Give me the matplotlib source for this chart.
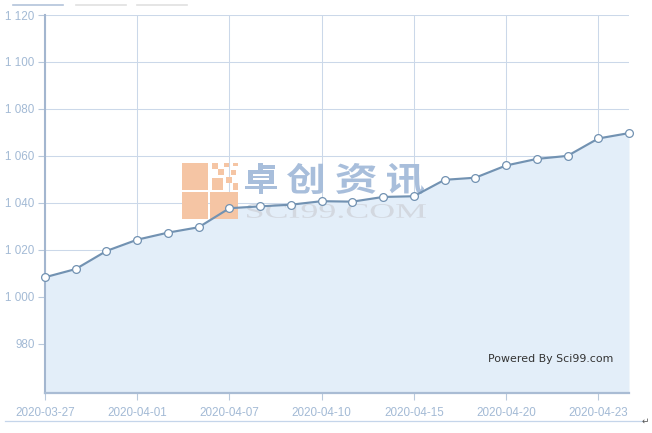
import matplotlib
matplotlib.use("Agg")
import matplotlib.pyplot as plt
import matplotlib.lines as mlines
import matplotlib.patches as mpatches
from matplotlib.textpath import TextPath
from matplotlib.font_manager import FontProperties
from matplotlib.transforms import Affine2D

# data
dates = ["2020-03-27", "2020-03-30", "2020-03-31", "2020-04-01", "2020-04-02",
         "2020-04-03", "2020-04-07", "2020-04-08", "2020-04-09", "2020-04-10",
         "2020-04-13", "2020-04-14", "2020-04-15", "2020-04-16", "2020-04-17",
         "2020-04-20", "2020-04-21", "2020-04-22", "2020-04-23", "2020-04-24"]
prices = [1008.3, 1011.8, 1019.5, 1024.3, 1027.3, 1029.6, 1037.7, 1038.5, 1039.2, 1040.7,
          1040.5, 1042.5, 1042.8, 1049.8, 1050.7, 1055.9, 1058.7, 1060.0, 1067.4, 1069.7]
y_ticks = [980, 1000, 1020, 1040, 1060, 1080, 1100, 1120]
y_tick_labels = ["980", "1 000", "1 020", "1 040", "1 060", "1 080", "1 100", "1 120"]

W, H = 652, 433
plt.rcParams['font.family'] = ['Liberation Sans', 'DejaVu Sans']

fig = plt.figure(figsize=(W / 100, H / 100), dpi=100)
fig.patch.set_facecolor('white')

# axes box in pixels: left 45, right 629, top 15, bottom 393
ax = fig.add_axes([45 / W, 1 - 393 / H, (629 - 45) / W, (393 - 15) / H])
ax.set_facecolor('white')

x = list(range(len(dates)))
line_col = '#7292b2'
ax.fill_between(x, prices, 959, color='#e3eef9', zorder=1, lw=0)
ax.plot(x, prices, color=line_col, lw=1.55, marker='o', markersize=5.6,
        markerfacecolor='white', markeredgecolor=line_col, markeredgewidth=0.9, zorder=5, clip_on=False)

ax.set_xlim(0, len(dates) - 1)
ax.set_ylim(959, 1120)
ax.set_yticks(y_ticks)
ax.set_yticklabels(y_tick_labels)
ax.set_xticks(x[::3])
ax.set_xticklabels(dates[::3])

lab_col = '#a3bad5'
ax.tick_params(axis='y', colors='#b9c9dc', labelcolor=lab_col, labelsize=8.4, length=5, width=0.8, pad=2.5)
ax.tick_params(axis='x', colors='#b9c9dc', labelcolor=lab_col, labelsize=8.4, length=5, width=0.8, pad=5)

ax.grid(True, color='#cbd8e9', lw=0.75, zorder=0)
ax.set_axisbelow(True)
for s in ['top', 'right']:
    ax.spines[s].set_visible(False)
ax.spines['left'].set_color('#a3b6cf')
ax.spines['left'].set_linewidth(1.5)
ax.spines['bottom'].set_color('#a9bcd4')
ax.spines['bottom'].set_linewidth(1.6)

# powered by text
ax.text(488 / W, 1 - 362 / H, "Powered By Sci99.com", transform=fig.transFigure,
        family='DejaVu Sans', fontsize=7.9, color='#333333', ha='left', va='baseline', zorder=6)

# watermark logo (between fill and line)
peach = '#f5c5a4'
blocks = [(182, 163, 26, 27), (182, 192, 26, 27), (210, 192, 28, 27),
          (212, 163, 6, 6), (224, 163, 5, 4), (233, 163, 5, 3),
          (218, 169, 6, 6), (231, 170, 5, 5),
          (212, 178, 11, 12), (226, 177, 6, 6), (233, 183, 5, 7)]
for bx, by, bw, bh in blocks:
    r = mpatches.Rectangle((bx / W, 1 - (by + bh) / H), bw / W, bh / H,
                           transform=fig.transFigure, facecolor=peach, edgecolor='none',
                           zorder=2, clip_on=False)
    ax.add_artist(r)


def box_text(s, x0, x1, ytop, ybot, family, color, weight='normal'):
    fp = FontProperties(family=family, weight=weight)
    tp = TextPath((0, 0), s, size=1, prop=fp)
    ext = tp.get_extents()
    sx = (x1 - x0) / ext.width
    sy = (ybot - ytop) / ext.height
    tr = (Affine2D().translate(-ext.x0, -ext.y0).scale(sx / W, sy / H)
          .translate(x0 / W, 1 - ybot / H) + fig.transFigure)
    p = mpatches.PathPatch(tp, transform=tr, facecolor=color, edgecolor='none',
                           zorder=3, clip_on=False)
    ax.add_artist(p)


cn_col = '#a8bedb'
for ch, x0, x1 in [("卓", 245, 277), ("创", 287, 323), ("资", 336, 376), ("讯", 387, 424)]:
    box_text(ch, x0, x1, 163, 194, 'Noto Sans CJK SC', cn_col, weight='bold')
box_text("SCI99.COM", 247, 426, 204, 218, 'Liberation Serif', '#d3d8e0')

# small legend-like bars at top
for x0, x1, c in [(13, 63, '#b3c4da'), (76, 126, '#e0e0e0'), (137, 187, '#e0e0e0')]:
    fig.add_artist(mlines.Line2D([x0 / W, x1 / W], [1 - 5 / H, 1 - 5 / H], color=c, lw=1.2))

# bottom border line and return mark
fig.add_artist(mlines.Line2D([5 / W, 642 / W], [1 - 420.5 / H, 1 - 420.5 / H], color='#c5d5ea', lw=0.9))
fig.text(642 / W, 1 - 421 / H, "\u21b5", family='DejaVu Sans', fontsize=6.5, color='#555555',
         ha='left', va='center')

fig.savefig('out.png', dpi=100)
